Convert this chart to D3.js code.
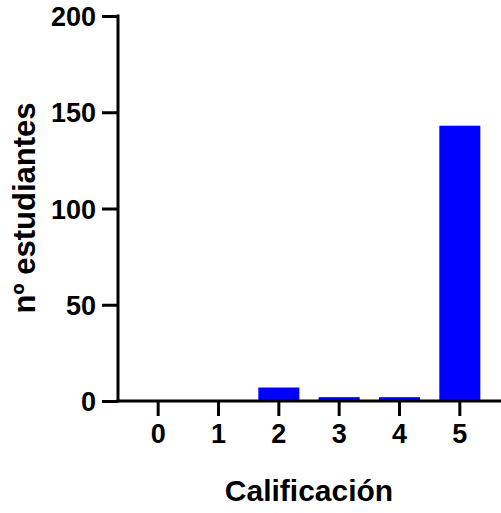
<!DOCTYPE html>
<html><head><meta charset="utf-8">
<script src="https://cdn.jsdelivr.net/npm/d3@7"></script>
<style>body{margin:0;background:#fff}svg{display:block}text{font-family:"Liberation Sans",Arial,sans-serif;font-weight:bold;fill:#000}</style>
</head><body>
<script>
const categories = ["0","1","2","3","4","5"];
const values = [0, 0, 7, 2, 2, 143];
const yTicks = [0, 50, 100, 150, 200];

const W = 501, H = 513;
const svg = d3.select("body").append("svg").attr("width", W).attr("height", H);
const x0 = 118, yTop = 16, yBase = 401;
const x = d3.scaleBand().domain(categories).range([128, 490]).paddingInner(0.32).paddingOuter(0.16);
const y = d3.scaleLinear().domain([0, 200]).range([yBase, yTop]);

svg.selectAll("rect.bar").data(values).enter().append("rect")
  .attr("class","bar")
  .attr("x", (d,i) => x(categories[i]))
  .attr("width", x.bandwidth())
  .attr("y", d => y(d))
  .attr("height", d => yBase - y(d))
  .attr("fill", "#0000ff");

// y axis
const ya = svg.append("g").attr("transform", `translate(${x0},0)`)
  .call(d3.axisLeft(y).tickValues(yTicks).tickSize(16).tickPadding(6).tickSizeOuter(0));
ya.select(".domain").remove();
ya.selectAll(".tick line").attr("stroke","#000").attr("stroke-width",3);
ya.selectAll(".tick text").attr("font-size",27).attr("dy","0.36em").style("font-family","'Liberation Sans',Arial,sans-serif").style("font-weight","bold");
svg.append("line").attr("x1",x0).attr("x2",x0).attr("y1",yTop-1.5).attr("y2",yBase+1.5).attr("stroke","#000").attr("stroke-width",3);

// x axis
const xa = svg.append("g").attr("transform", `translate(0,${yBase})`)
  .call(d3.axisBottom(x).tickSize(15).tickPadding(8).tickSizeOuter(0));
xa.select(".domain").remove();
xa.selectAll(".tick line").attr("stroke","#000").attr("stroke-width",3);
xa.selectAll(".tick text").attr("font-size",27).attr("dy","0.71em").style("font-family","'Liberation Sans',Arial,sans-serif").style("font-weight","bold");
svg.append("line").attr("x1",x0-1.5).attr("x2",W).attr("y1",yBase).attr("y2",yBase).attr("stroke","#000").attr("stroke-width",3);

svg.append("text").attr("x", 309).attr("y", 501).attr("text-anchor","middle").attr("font-size",30).text("Calificación");
svg.append("text").attr("transform","translate(35,208) rotate(-90)").attr("text-anchor","middle").attr("font-size",31).text("nº estudiantes");
</script>
</body></html>
